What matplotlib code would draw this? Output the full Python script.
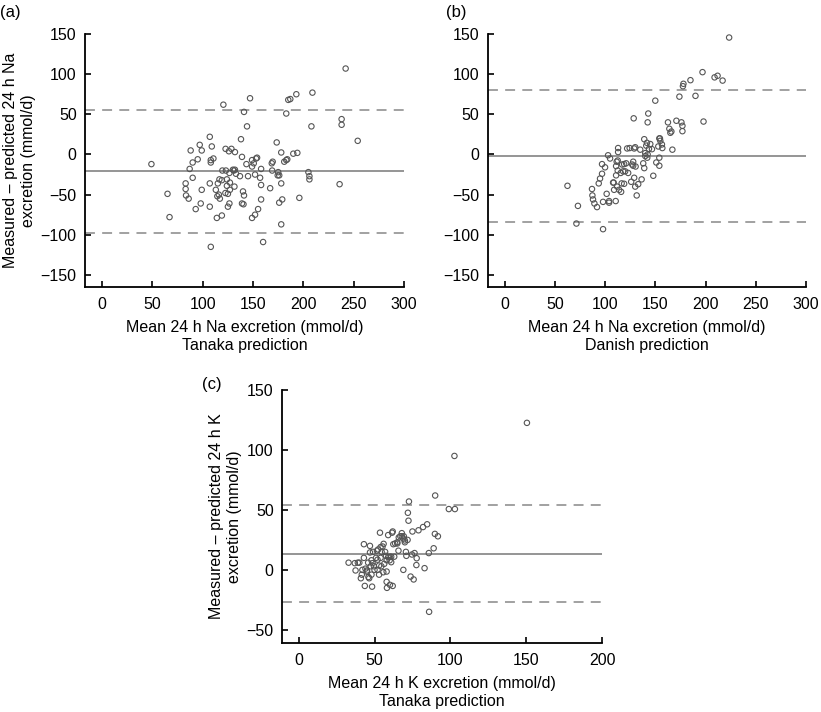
import matplotlib.pyplot as plt
import matplotlib as mpl

mpl.rcParams['font.family'] = ['Liberation Sans', 'DejaVu Sans']
mpl.rcParams['font.size'] = 11.5
mpl.rcParams['axes.unicode_minus'] = True

# (a) Na, Tanaka prediction
a_mean = [49, 65, 67, 83, 83, 83.4, 86, 88, 87, 90, 90, 93, 95, 97, 98, 99, 99,
          107, 107, 107, 108, 108, 109, 110.6, 108, 120.5, 119.5, 119, 119, 114,
          113, 114.5, 116, 117, 116.6, 115, 122.7, 123, 124, 124, 125, 125, 126,
          126.5, 127, 127, 126.5, 128.5, 122.5, 132, 132, 133, 131.5, 137, 138,
          139, 140, 141, 139, 140.5, 141, 144, 143.4, 145, 147, 149, 149, 149,
          150.7, 152, 152, 153, 154, 155, 157, 158, 158, 158, 160, 167, 168.6,
          169, 169.5, 173.5, 174.5, 175, 176, 176, 178, 178, 178, 179, 181, 183,
          184, 183, 185, 187, 190, 194, 193, 196, 205, 206, 206, 209, 208, 238,
          238, 236, 242, 254, 130, 131]
a_diff = [-12, -49, -78, -36, -43, -51, -55, 5, -18, -10, -29, -68, -6, 12, -61,
          -44, 5, 22, -36, -65, -10, -7, 10, -5, -115, 62, -20, -32, -76, -79,
          -44, -52, -50, -55, -31, -36, 7, -20, -31, -39, -49, -65, 4, -23, -35,
          -44, -61, 7, -48, -19, 3, -24, -40, -27, 19, -3, -46, -51, -61, -62, 53,
          35, -12, -27, 70, -7, -15, -79, -11, -25, -75, -5, -4, -68, -29, -38,
          -18, -56, -109, -42, -11, -20, -9, 15, -26, -22, -26, -60, -87, 2.5,
          -36, -56, -9, -7, -6, 51, 68, 69, 1, 2, 75, -54, -22, -27, -31, 77, 35,
          44, 37, -37, 107, 17, -19, -20]
a_bias, a_upper, a_lower = -21, 55.6, -98

# (b) Na, Danish prediction
b_mean = [62.6, 73, 71.5, 87, 87.4, 88, 89.4, 92, 93.7, 95, 97, 97, 100, 98, 98,
          101.6, 103, 105, 104, 104, 108, 108.6, 109, 110.6, 111, 111.6, 112.6,
          111, 112.6, 112, 113, 113, 114, 116, 115.6, 117, 116.5, 118, 119, 120,
          121, 122, 123, 124.5, 126, 127, 128, 128.5, 129, 130, 129, 130, 130.4,
          131.5, 133, 135, 136.4, 138, 139, 139, 140, 141, 141.7, 142.4, 143,
          142.4, 143.7, 145, 146.7, 148, 150, 151, 153, 154, 154, 154.6, 155,
          156.6, 157, 162.6, 164, 165, 166, 167, 171, 174, 176, 177, 177, 177.5,
          178, 185, 190, 197, 198, 209, 212, 217, 223.5, 119, 128, 140, 142, 154]
b_diff = [-39, -64, -86, -43, -51, -56, -61, -65.5, -36, -30, -24, -12, -16, -59,
          -93, -49, -1, -5, -58, -60, -35, -35, -44, -58, -14.5, -9, -7.5, -26,
          -20, -40, 3, 8, -44, -46.5, -23, -12.5, -36, -21, -36.5, -21, -11, 7.5,
          -23, 8, -34, -12.5, -9, 45, 7.5, 9, -29, -40, -15, -51, -37, 6, -31,
          -11, 19, -17, 1.7, 11, 14.5, 40, 51, 0, 7, 13, 6.6, -26.5, 67, -10, 10,
          -4, -14, 20, 17, 12.5, 8, 40, 32, 27, 28.6, 6, 42, 72, 40, 35.7, 29, 85,
          88, 92.5, 73, 102.5, 41, 96, 98, 92, 145.6, -12, -14, -2, -4, 20]
b_bias, b_upper, b_lower = -2.5, 80.5, -84

# (c) K, Tanaka prediction
c_mean = [32.9, 37, 39, 40, 37.5, 41, 41.6, 42, 43, 43.6, 43, 44, 45, 45.8, 46,
          47, 47, 47.5, 48, 48.4, 48, 48.7, 49, 49.6, 50, 51, 51.6, 52, 52.4, 53,
          53.6, 53, 54, 54, 54.7, 55.3, 55.8, 56, 56.4, 57, 57.6, 58, 58, 58.2,
          59, 59, 60, 60.2, 61, 61, 61.6, 62, 62, 62.4, 63, 63.6, 65, 65.8, 66,
          67, 68, 69, 69.3, 70, 70.7, 71, 71.8, 72, 72.4, 72.7, 73.8, 74.7, 75,
          75.8, 76.4, 77.6, 77.8, 79, 82, 83, 84.7, 85.8, 86, 89, 89.8, 91.8, 90,
          99, 103, 102.7, 150.5, 68, 69, 70, 65, 58, 60, 52, 54.5, 45, 46.5]
c_diff = [6, 5.6, 6, 6, -0.5, -7, -4, 0, 21.4, -13.4, 10, 1, -0.5, 6, -6, 20,
          14.5, 3, 8, -14, -4, 5.6, 15, 3, 0, 10, 16, 0, 17, 3.6, 31, -4, 19, 10,
          15, 19.5, -2, 21.7, 5, 15, 11.7, -1.4, -10, -15, 29, 10.6, 8, -12.5,
          11, 6.4, 31, 32, -13.4, 21.4, 11, 22, 23, 16, 27, 28, 30.6, 0, 28, 23,
          15, 11.7, 25, 47.6, 41, 57, -5.6, 12.8, 32, -8, 14, 4, 9.7, 33, 35.7,
          1.4, 38, 14, -35, 18, 30, 28, 62, 50.7, 50.7, 95, 122.6, 28, 26, 24.5,
          22, 8, 11, 8.5, 3, -1.5, -7]
c_bias, c_upper, c_lower = 13.4, 54.3, -26.5

W, H = 821, 712
fig = plt.figure(figsize=(W / 100, H / 100), dpi=100)


def panel(rect, x, y, bias, upper, lower, xlim, ylim, xticks, yticks, xlabel, ylabel, tag, tagpos):
    ax = fig.add_axes(rect)
    ax.axhline(bias, color='#8c8c8c', lw=1.3, zorder=1)
    for v in (upper, lower):
        ax.axhline(v, color='#9a9a9a', lw=1.3, ls=(0, (5.5, 4)), zorder=1)
    ax.scatter(x, y, s=15, facecolors='none', edgecolors='#555555', linewidths=0.8, zorder=2)
    ax.set_xlim(*xlim)
    ax.set_ylim(*ylim)
    ax.set_xticks(xticks)
    ax.set_yticks(yticks)
    for s in ('top', 'right'):
        ax.spines[s].set_visible(False)
    ax.spines['left'].set_bounds(ylim[0], yticks[-1])
    ax.spines['bottom'].set_bounds(xlim[0], xticks[-1])
    for s in ('left', 'bottom'):
        ax.spines[s].set_linewidth(1.3)
    ax.tick_params(direction='in', length=4, width=1.2, pad=6)
    ax.tick_params(axis='x', pad=7)
    ax.set_xlabel(xlabel, linespacing=1.25, labelpad=6)
    if ylabel:
        ax.set_ylabel(ylabel, linespacing=1.25, labelpad=3)
    fig.text(tagpos[0] / W, 1 - tagpos[1] / H, tag, ha='left', va='center', fontsize=12)
    return ax


panel([85 / W, 1 - 287 / H, 319 / W, 253 / H], a_mean, a_diff, a_bias, a_upper, a_lower,
      (-17, 300), (-165, 150), [0, 50, 100, 150, 200, 250, 300], [-150, -100, -50, 0, 50, 100, 150],
      'Mean 24 h Na excretion (mmol/d)\nTanaka prediction',
      'Measured – predicted 24 h Na\nexcretion (mmol/d)', '(a)', (0, 12))

panel([487.5 / W, 1 - 287 / H, 318.5 / W, 253 / H], b_mean, b_diff, b_bias, b_upper, b_lower,
      (-17, 300), (-165, 150), [0, 50, 100, 150, 200, 250, 300], [-150, -100, -50, 0, 50, 100, 150],
      'Mean 24 h Na excretion (mmol/d)\nDanish prediction', None, '(b)', (446, 12))

panel([282 / W, 1 - 643 / H, 320 / W, 253 / H], c_mean, c_diff, c_bias, c_upper, c_lower,
      (-11, 200), (-61, 150), [0, 50, 100, 150, 200], [-50, 0, 50, 100, 150],
      'Mean 24 h K excretion (mmol/d)\nTanaka prediction',
      'Measured – predicted 24 h K\nexcretion (mmol/d)', '(c)', (202, 384))

fig.savefig('out.png', dpi=100)
